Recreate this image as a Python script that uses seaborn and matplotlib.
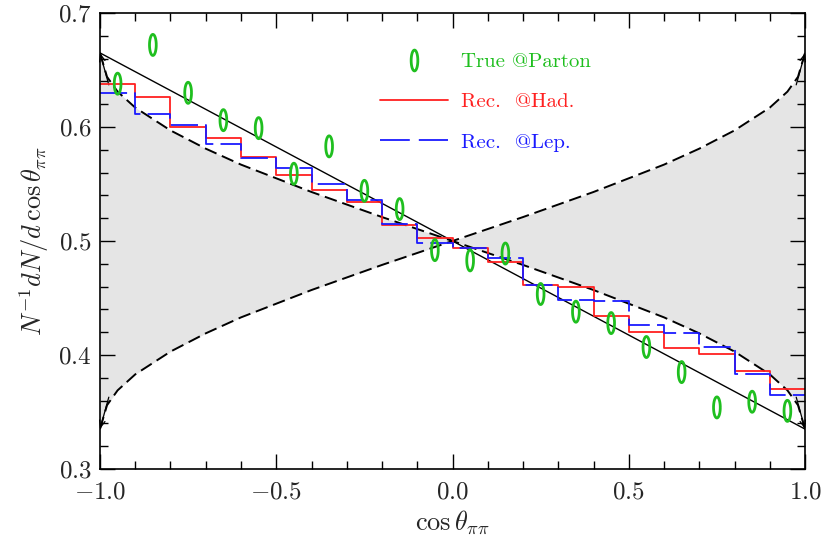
import numpy as np
import pandas as pd
import seaborn as sns
import matplotlib.pyplot as plt
from matplotlib.path import Path
from matplotlib.lines import Line2D
from matplotlib.ticker import MultipleLocator, FormatStrFormatter

# bin layout of the histograms (20 bins on [-1, 1])
bin_edges = [round(-1.0 + 0.1 * i, 2) for i in range(21)]
bin_centers = [round(e + 0.05, 3) for e in bin_edges[:-1]]

# Rec. @Had. (red, solid)
rec_had = [0.638, 0.626, 0.600, 0.590, 0.574, 0.558, 0.545, 0.534, 0.514, 0.503,
           0.494, 0.482, 0.461, 0.460, 0.434, 0.420, 0.406, 0.401, 0.386, 0.370]
# Rec. @Lep. (blue, dashed)
rec_lep = [0.630, 0.611, 0.602, 0.585, 0.573, 0.564, 0.550, 0.536, 0.515, 0.498,
           0.494, 0.485, 0.461, 0.448, 0.447, 0.426, 0.419, 0.407, 0.383, 0.365]
# True @Parton (green ellipses)
true_parton = [0.638, 0.672, 0.630, 0.606, 0.599, 0.559, 0.583, 0.544, 0.528, 0.492,
               0.483, 0.489, 0.4535, 0.438, 0.428, 0.407, 0.385, 0.354, 0.359, 0.351]

# straight reference line (end points)
line_x = [-1.0, 1.0]
line_y = [0.665, 0.335]

# half width of the grey band, for |x|
band_x = [0.0, 0.1, 0.2, 0.3, 0.4, 0.5, 0.6, 0.7, 0.8, 0.9, 0.95, 0.98, 1.0]
band_d = [0.0, 0.0105, 0.021, 0.032, 0.043, 0.055, 0.067, 0.081, 0.097, 0.117, 0.131, 0.144, 0.165]

sns.set_style("ticks", {"xtick.direction": "in", "ytick.direction": "in"})
plt.rcParams['mathtext.fontset'] = 'cm'
plt.rcParams['font.family'] = ['cmr10', 'DejaVu Serif']
plt.rcParams['axes.unicode_minus'] = False
plt.rcParams['axes.formatter.use_mathtext'] = True

fig = plt.figure(figsize=(8.25, 5.42), dpi=100)
ax = fig.add_axes([0.1212, 0.1347, 0.8546, 0.8413])

# grey bow-tie band
bx = np.array(band_x)
bd = np.array(band_d)
xs = np.concatenate([-bx[::-1], bx[1:]])
ds = np.concatenate([-bd[::-1], bd[1:]])
curve_a = 0.5 - ds
curve_b = 0.5 + ds
ax.fill_between(xs, curve_a, curve_b, color='#e5e5e5', lw=0, zorder=0)
ax.plot(xs, curve_a, color='black', lw=1.4, ls=(0, (6.5, 3)), zorder=2)
ax.plot(xs, curve_b, color='black', lw=1.4, ls=(0, (6.5, 3)), zorder=2)
for (x0, y0), (x1, y1) in [((-0.975, 0.5 + 0.137), (-1.0, 0.665)),
                           ((-0.975, 0.5 - 0.137), (-1.0, 0.335)),
                           ((0.975, 0.5 + 0.137), (1.0, 0.665)),
                           ((0.975, 0.5 - 0.137), (1.0, 0.335))]:
    ax.annotate('', xy=(x1, y1), xytext=(x0, y0),
                arrowprops=dict(arrowstyle='->, head_length=0.5, head_width=0.2',
                                color='black', lw=0.9, shrinkA=0, shrinkB=0))

# straight line
sns.lineplot(x=line_x, y=line_y, color='black', lw=1.0, ax=ax, zorder=3)

# histograms
df = pd.DataFrame({'x': bin_centers, 'had': rec_had, 'lep': rec_lep})
sns.histplot(data=df, x='x', weights='had', bins=bin_edges, element='step',
             fill=False, color='#ff2020', lw=1.3, ax=ax, zorder=4)
sns.histplot(data=df, x='x', weights='lep', bins=bin_edges, element='step',
             fill=False, color='#1a1aff', lw=1.3, ls=(0, (15, 4)), ax=ax, zorder=5)

# green open ellipse markers
t = np.linspace(0, 2 * np.pi, 60)
ellipse = Path(np.column_stack([0.32 * np.cos(t), np.sin(t)]))
sns.scatterplot(x=bin_centers, y=true_parton, marker=ellipse, s=230,
                facecolors='none', edgecolor='#1fbf1f', linewidth=2.0,
                ax=ax, zorder=6)

ax.set_xlim(-1, 1)
ax.set_ylim(0.3, 0.7)
ax.xaxis.set_major_locator(MultipleLocator(0.5))
ax.xaxis.set_minor_locator(MultipleLocator(0.1))
ax.yaxis.set_major_locator(MultipleLocator(0.1))
ax.yaxis.set_minor_locator(MultipleLocator(0.02))
ax.xaxis.set_major_formatter(FormatStrFormatter('$%.1f$'))
ax.yaxis.set_major_formatter(FormatStrFormatter('$%.1f$'))
ax.tick_params(which='both', direction='in', top=True, right=True, width=1.0,
               color='black')
ax.tick_params(which='major', length=11, labelsize=18)
ax.tick_params(which='minor', length=5.5)
ax.tick_params(axis='x', pad=9)
ax.tick_params(axis='y', pad=6)
for sp in ax.spines.values():
    sp.set_linewidth(1.2)
    sp.set_color('black')
    sp.set_zorder(10)

ax.set_xlabel(r'$\cos\theta_{\pi\pi}$', fontsize=19, labelpad=4)
ax.set_ylabel(r'$N^{-1}dN/d\,\cos\theta_{\pi\pi}$', fontsize=19, labelpad=5)

handles = [
    Line2D([], [], ls='none', marker=ellipse, markersize=15, markerfacecolor='none',
           markeredgecolor='#1fbf1f', markeredgewidth=2.0, color='#1fbf1f'),
    Line2D([], [], color='#ff2020', lw=1.3),
    Line2D([], [], color='#1a1aff', lw=1.3, ls=(0, (16.5, 5))),
]
labels = ['True @Parton', 'Rec.  @Had.', 'Rec.  @Lep.']
leg = ax.legend(handles, labels, loc='upper left', bbox_to_anchor=(0.37, 0.955),
                frameon=False, fontsize=15, handlelength=3.3, handletextpad=0.6,
                labelspacing=1.05, labelcolor='linecolor')

fig.savefig('out.png', dpi=100)
